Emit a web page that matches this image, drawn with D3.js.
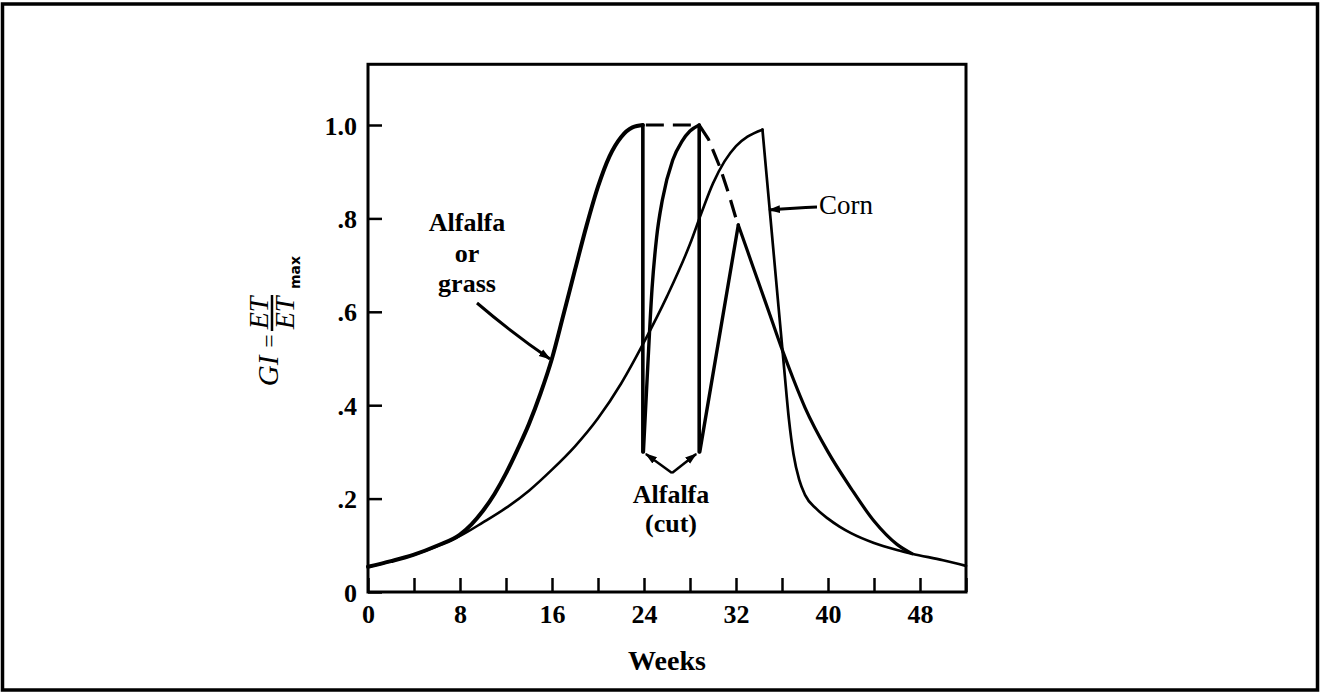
<!DOCTYPE html>
<html>
<head>
<meta charset="utf-8">
<script src="https://cdn.jsdelivr.net/npm/d3@7"></script>
<style>
  html, body { margin: 0; padding: 0; background: #fff; }
  svg { display: block; }
  text { font-family: "Liberation Serif", "DejaVu Serif", serif; fill: #000; }
</style>
</head>
<body>
<svg id="chart" width="1325" height="692"></svg>
<script>
// ---------- data ----------
const xTickValues = [0, 4, 8, 12, 16, 20, 24, 28, 32, 36, 40, 44, 48, 52];
const xLabelValues = [0, 8, 16, 24, 32, 40, 48];
const yTickValues = [0, 0.2, 0.4, 0.6, 0.8, 1.0];
const yTickLabels = ["0", ".2", ".4", ".6", ".8", "1.0"];

// Alfalfa or grass (uncut), solid rise
const alfalfaWeeks  = [0, 2, 4, 6, 8, 9, 10, 11, 12, 13, 14, 15, 16, 17, 18, 19, 20, 21, 22, 23, 23.9];
const alfalfaValues = [0.054, 0.066, 0.08, 0.099, 0.123, 0.145, 0.174, 0.21, 0.254, 0.305, 0.36, 0.425, 0.5, 0.594, 0.69, 0.784, 0.868, 0.933, 0.974, 0.995, 1.0];
// Alfalfa or grass (uncut), dashed continuation
const alfalfaDashWeeks  = [23.9, 28.8, 29.6, 30.6, 31.4, 32.0];
const alfalfaDashValues = [1.0, 1.0, 0.97, 0.91, 0.85, 0.80];

// Alfalfa (cut)
const cutWeeks = [23.9, 28.8];
const cutFloor = 0.30;
const regrowth1Weeks  = [23.95, 24.3, 24.7, 25.1, 25.6, 26.5, 27.3, 28.0, 28.8];
const regrowth1Values = [0.30, 0.47, 0.65, 0.76, 0.84, 0.925, 0.965, 0.987, 1.0];
const regrowth2Weeks  = [28.85, 32.2];
const regrowth2Values = [0.30, 0.786];
const declineWeeks  = [32.2, 33, 34, 35, 36, 37, 38, 40, 42, 44, 46, 47.3];
const declineValues = [0.786, 0.73, 0.66, 0.59, 0.52, 0.455, 0.395, 0.30, 0.222, 0.152, 0.102, 0.082];

// Corn
const cornRiseWeeks  = [0, 2, 4, 6, 8, 10, 12, 14, 16, 18, 20, 22, 24, 26, 28, 29, 30, 31, 32, 33, 34.3];
const cornRiseValues = [0.054, 0.066, 0.08, 0.098, 0.12, 0.149, 0.18, 0.217, 0.262, 0.312, 0.372, 0.446, 0.535, 0.633, 0.745, 0.812, 0.875, 0.922, 0.955, 0.975, 0.99];
const cornFallWeeks  = [34.3, 35.0, 35.7, 36.2, 36.6, 37.0, 37.5, 38, 39, 40, 41, 42, 44, 46, 47.3, 50, 52];
const cornFallValues = [0.99, 0.80, 0.61, 0.475, 0.37, 0.295, 0.24, 0.208, 0.178, 0.157, 0.14, 0.126, 0.105, 0.09, 0.082, 0.068, 0.056];

// ---------- layout ----------
const svg = d3.select("#chart");
const x = d3.scaleLinear().domain([0, 52]).range([368, 966]);
const y = d3.scaleLinear().domain([0, 1]).range([592, 125]);
const yTop = 1.13;

const zip = (w, v) => w.map((d, i) => [d, v[i]]);

// outer border
svg.append("rect").attr("x", 2.5).attr("y", 4).attr("width", 1315).attr("height", 686)
  .attr("fill", "none").attr("stroke", "#000").attr("stroke-width", 3.5);

// markers
const defs = svg.append("defs");
defs.append("marker").attr("id", "arrow").attr("viewBox", "0 0 12 10")
  .attr("refX", 11).attr("refY", 5).attr("markerWidth", 12).attr("markerHeight", 10)
  .attr("markerUnits", "userSpaceOnUse").attr("orient", "auto")
  .append("path").attr("d", "M0,1 L12,5 L0,9 Z").attr("fill", "#000");

// plot frame
svg.append("rect").attr("x", x(0)).attr("y", y(yTop))
  .attr("width", x(52) - x(0)).attr("height", y(0) - y(yTop))
  .attr("fill", "none").attr("stroke", "#000").attr("stroke-width", 3);

// x axis
const xAxis = d3.axisBottom(x).tickValues(xTickValues).tickSize(-14).tickPadding(11)
  .tickFormat(d => xLabelValues.includes(d) ? String(d) : "");
const gx = svg.append("g").attr("transform", `translate(0,${y(0)})`).call(xAxis);
gx.select(".domain").remove();
gx.selectAll("line").attr("stroke", "#000").attr("stroke-width", 2.5);
gx.selectAll("text").attr("font-size", 26).attr("font-weight", "bold")
  .style("font-family", "'Liberation Serif', serif").attr("fill", "#000").attr("dy", "0.75em");

// y axis
const yAxis = d3.axisLeft(y).tickValues(yTickValues).tickSize(-14).tickPadding(11)
  .tickFormat((d, i) => yTickLabels[i]);
const gy = svg.append("g").attr("transform", `translate(${x(0)},0)`).call(yAxis);
gy.select(".domain").remove();
gy.selectAll("line").attr("stroke", "#000").attr("stroke-width", 2.5);
gy.selectAll("text").attr("font-size", 26).attr("font-weight", "bold")
  .style("font-family", "'Liberation Serif', serif").attr("fill", "#000").attr("dy", "0.35em");

// axis titles
svg.append("text").attr("x", (x(0) + x(52)) / 2).attr("y", 670).attr("text-anchor", "middle")
  .attr("font-size", 28).attr("font-weight", "bold").text("Weeks");

const yl = svg.append("g").attr("transform", "translate(272,312) rotate(-90)");
yl.append("text").attr("x", -59).attr("y", 6).attr("text-anchor", "middle")
  .attr("font-size", 29).attr("font-style", "italic").text("GI");
yl.append("text").attr("x", -29).attr("y", 5).attr("text-anchor", "middle")
  .attr("font-size", 24).text("=");
yl.append("text").attr("x", -1).attr("y", -4).attr("text-anchor", "middle")
  .attr("font-size", 28).attr("font-style", "italic").text("ET");
yl.append("line").attr("x1", -19).attr("x2", 17).attr("y1", 0).attr("y2", 0)
  .attr("stroke", "#000").attr("stroke-width", 2.5);
yl.append("text").attr("x", -1).attr("y", 22).attr("text-anchor", "middle")
  .attr("font-size", 28).attr("font-style", "italic").text("ET");
yl.append("text").attr("x", 23).attr("y", 28).attr("text-anchor", "start")
  .attr("font-size", 14).attr("font-weight", "bold").style("font-family", "'DejaVu Sans', sans-serif").text("max");

// ---------- curves ----------
const lineMono = d3.line().x(d => x(d[0])).y(d => y(d[1])).curve(d3.curveMonotoneX);
const lineLin = d3.line().x(d => x(d[0])).y(d => y(d[1]));
const plot = svg.append("g").attr("fill", "none").attr("stroke", "#000")
  .attr("stroke-linejoin", "round").attr("stroke-linecap", "round");

// corn (thin)
plot.append("path").attr("d", lineMono(zip(cornRiseWeeks, cornRiseValues))).attr("stroke-width", 2.6);
plot.append("path").attr("d", lineMono(zip(cornFallWeeks, cornFallValues))).attr("stroke-width", 2.7);

// alfalfa uncut
plot.append("path").attr("d", lineMono(zip(alfalfaWeeks, alfalfaValues))).attr("stroke-width", 4);
plot.append("path").attr("d", lineLin(zip(alfalfaDashWeeks, alfalfaDashValues)))
  .attr("stroke-width", 3.2).attr("stroke-linecap", "butt").attr("stroke-dasharray", "18 9")
  .attr("stroke-dashoffset", -3);

// alfalfa cut
cutWeeks.forEach(w => {
  plot.append("path").attr("d", lineLin([[w, 1.0], [w, cutFloor]])).attr("stroke-width", 3.6);
});
plot.append("path").attr("d", lineMono(zip(regrowth1Weeks, regrowth1Values))).attr("stroke-width", 3.4);
plot.append("path").attr("d", lineLin(zip(regrowth2Weeks, regrowth2Values))).attr("stroke-width", 3.4);
plot.append("path").attr("d", lineMono(zip(declineWeeks, declineValues))).attr("stroke-width", 3.2);

// ---------- annotations ----------
const ann = svg.append("g");
const lbl = (t, px, py, opts = {}) => ann.append("text").attr("x", px).attr("y", py)
  .attr("text-anchor", opts.anchor || "middle").attr("font-size", opts.size || 26)
  .attr("font-weight", opts.weight || "bold").text(t);

lbl("Alfalfa", 467, 231);
lbl("or", 467, 262);
lbl("grass", 467, 292);
ann.append("path").attr("d", "M477,303 Q512,333 550,359")
  .attr("fill", "none").attr("stroke", "#000").attr("stroke-width", 3).attr("marker-end", "url(#arrow)");

lbl("Corn", 819, 214, { anchor: "start", weight: "normal", size: 27 });
ann.append("path").attr("d", "M817,207 Q795,208 769,210")
  .attr("fill", "none").attr("stroke", "#000").attr("stroke-width", 3).attr("marker-end", "url(#arrow)");

lbl("Alfalfa", 671, 503);
lbl("(cut)", 671, 532);
const vx = 672, vy = 473;
ann.append("path").attr("d", `M${vx},${vy} L${x(cutWeeks[0]) + 3},${y(cutFloor) + 2}`)
  .attr("fill", "none").attr("stroke", "#000").attr("stroke-width", 2.5).attr("marker-end", "url(#arrow)");
ann.append("path").attr("d", `M${vx},${vy} L${x(cutWeeks[1]) - 3},${y(cutFloor) + 2}`)
  .attr("fill", "none").attr("stroke", "#000").attr("stroke-width", 2.5).attr("marker-end", "url(#arrow)");
</script>
</body>
</html>
